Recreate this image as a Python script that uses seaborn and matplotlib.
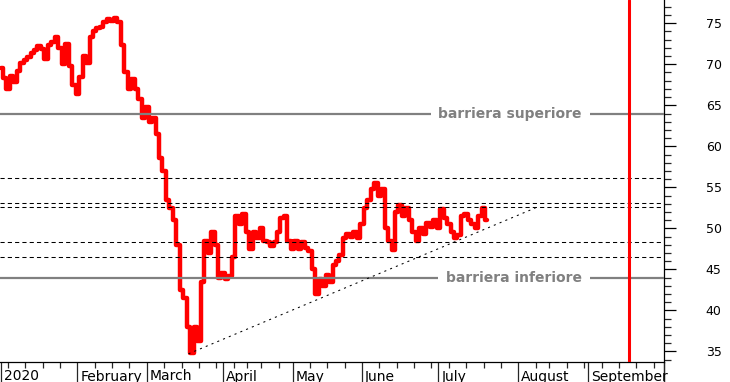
import numpy as np
import pandas as pd
import matplotlib
matplotlib.use("Agg")
import matplotlib.pyplot as plt
import seaborn as sns
from matplotlib import transforms
from matplotlib.ticker import FixedLocator, MultipleLocator, NullFormatter

sns.set_style("white")
plt.rcParams["font.family"] = ["DejaVu Sans"]

# ---------------- data ----------------
first_session = "2020-01-02"
last_axis_day = "2020-10-01"
market_holidays = ["2020-04-10", "2020-04-13", "2020-05-01", "2020-08-14"]

price = [
    69.5, 68.3, 67.0, 68.6, 67.8, 69.2, 70.2, 70.5, 70.9, 71.4,
    71.8, 72.2, 71.9, 70.6, 72.3, 72.7, 73.3, 72.0, 70.0, 72.5,
    69.8, 67.5, 66.4, 68.5, 71.0, 70.2, 73.3, 74.0, 74.4, 74.6,
    75.1, 75.5, 75.3, 75.7, 75.2, 72.4, 69.0, 67.0, 68.2, 67.0,
    65.8, 63.5, 64.8, 63.0, 63.5, 61.5, 58.6, 57.0, 53.5, 52.5,
    51.0, 48.0, 42.5, 41.5, 38.0, 34.8, 38.0, 36.3, 43.5, 48.5,
    47.0, 49.5, 48.0, 44.0, 44.5, 43.8, 44.2, 46.5, 51.5, 50.5,
    51.8, 49.5, 47.5, 49.5, 48.8, 50.0, 48.5, 48.3, 47.8, 48.3,
    49.5, 51.2, 51.5, 48.5, 47.5, 48.5, 47.5, 48.3, 47.6, 47.2,
    45.0, 42.0, 43.8, 43.0, 44.3, 43.5, 45.5, 46.0, 46.8, 48.8,
    49.3, 49.0, 49.6, 48.8, 50.5, 52.5, 53.5, 54.8, 55.5, 54.0,
    54.8, 50.0, 48.5, 47.4, 52.0, 52.8, 51.5, 52.5, 51.0, 49.5,
    48.5, 50.0, 49.3, 50.6, 50.2, 51.0, 50.0, 52.3, 51.3, 50.5,
    49.5, 48.8, 49.2, 51.5, 51.8, 51.0, 50.5, 50.0, 51.5, 52.5,
    51.0,
]

upper_barrier = 64.0
lower_barrier = 44.0
upper_label = "barriera superiore"
lower_label = "barriera inferiore"
levels = [56.1, 53.1, 52.6, 48.3, 46.5]
trend_dates = ["2020-03-18", "2020-08-10"]
trend_values = [34.7, 52.5]
expiry_date = "2020-09-17"
month_labels = ["2020", "February", "March", "April", "May",
                "June", "July", "August", "September"]
ytick_values = [35, 40, 45, 50, 55, 60, 65, 70, 75]

# ---------------- session axis ----------------
days = pd.bdate_range(first_session, last_axis_day)
sessions = days[~days.isin(pd.to_datetime(market_holidays))]
pos = pd.Series(np.arange(len(sessions)), index=sessions)

df = pd.DataFrame({"session": np.arange(len(price)), "price": price})

month_first = pos.groupby([pos.index.year, pos.index.month]).min().values
week_first = pos.groupby(pos.index.to_period("W")).min().values

# ---------------- figure ----------------
W, H = 730, 382
fig = plt.figure(figsize=(W / 100, H / 100), dpi=100)
ax = fig.add_axes([0, 20 / H, 664 / W, 362 / H])

sns.lineplot(data=df, x="session", y="price", color="#ff0000",
             linewidth=3.2, drawstyle="steps-mid", ax=ax, zorder=2)

# horizontal reference levels
for v in levels:
    ax.axhline(v, color="black", lw=0.75, ls=(0, (4, 3)), zorder=3)

gray = "#808080"
for v, lab in [(upper_barrier, upper_label), (lower_barrier, lower_label)]:
    ax.axhline(v, color=gray, lw=1.6, zorder=3)
    ax.text(582 / 664, v, lab, transform=transforms.blended_transform_factory(ax.transAxes, ax.transData),
            ha="right", va="center", color=gray, fontsize=10, fontweight="bold",
            bbox=dict(boxstyle="square,pad=0.55", fc="white", ec="none"), zorder=5)

# trend line
tx = [pos[pd.Timestamp(d)] for d in trend_dates]
ax.plot(tx, trend_values, color="black", lw=0.75, ls=(0, (2, 4)), zorder=3)

# expiry line
ax.axvline(pos[pd.Timestamp(expiry_date)], color="#ff0000", lw=2.2, zorder=4)

ax.set_xlim(-0.3, len(sessions) - 1)
ax.set_ylim(33.7, 77.84)

# spines
for s in ["left", "top"]:
    ax.spines[s].set_visible(False)
for s in ["right", "bottom"]:
    ax.spines[s].set_visible(True)
    ax.spines[s].set_color("black")
    ax.spines[s].set_linewidth(0.9)

# y axis on the right
ax.yaxis.tick_right()
ax.yaxis.set_major_locator(FixedLocator(ytick_values))
ax.yaxis.set_minor_locator(MultipleLocator(1))
ax.tick_params(axis="y", which="major", length=8.6, width=0.9, pad=21.5,
               labelsize=9, colors="black", direction="out")
ax.tick_params(axis="y", which="minor", length=5, width=0.9, direction="out")

# x axis: month separators + weekly ticks
ax.xaxis.set_major_locator(FixedLocator(list(month_first) + [len(sessions) - 1]))
ax.xaxis.set_minor_locator(FixedLocator(week_first))
ax.xaxis.set_major_formatter(NullFormatter())
ax.tick_params(axis="x", which="major", length=14.5, width=0.9, direction="out", bottom=True)
ax.tick_params(axis="x", which="minor", length=4.3, width=0.9, direction="out", bottom=True)
ax.set_xlabel("")
ax.set_ylabel("")

lab_tr = transforms.blended_transform_factory(ax.transData, fig.transFigure) + \
    transforms.ScaledTranslation(3 / 100, 0, fig.dpi_scale_trans)
for p, lab in zip(month_first, month_labels):
    ax.text(p, 1.5 / H, lab, transform=lab_tr, ha="left", va="baseline",
            fontsize=10, color="black", clip_on=False)

fig.savefig("out.png", dpi=100)
